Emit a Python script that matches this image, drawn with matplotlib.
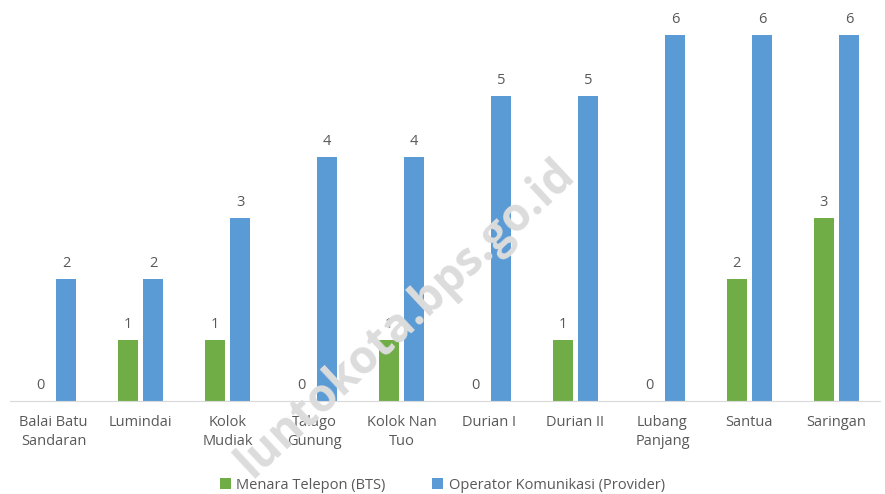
import numpy as np
import matplotlib
matplotlib.use("Agg")
from matplotlib import pyplot as plt

plt.rcParams['font.family'] = ['Open Sans', 'DejaVu Sans']

desa = ["Balai Batu\nSandaran", "Lumindai", "Kolok\nMudiak", "Talago\nGunung",
        "Kolok Nan\nTuo", "Durian I", "Durian II", "Lubang\nPanjang", "Santua", "Saringan"]
bts = [0, 1, 1, 0, 1, 0, 1, 0, 2, 3]
provider = [2, 2, 3, 4, 4, 5, 5, 6, 6, 6]

green = "#70ad47"
blue = "#5b9bd5"
txt = "#595959"

fig = plt.figure(figsize=(8.85, 4.94), dpi=100)

# watermark sits behind the bars
fig.text(406/885, 1-318/494, "luntokota.bps.go.id", rotation=43, ha='center', va='center',
         fontsize=33, fontweight='bold', color='#dcdcdc', zorder=0)

ax = fig.add_axes([10/885, 1-401/494, 870/885, 396/494])
ax.patch.set_alpha(0)

x = np.arange(len(desa))
w = 0.225
b1 = ax.bar(x - 0.145, bts, w, color=green, label="Menara Telepon (BTS)")
b2 = ax.bar(x + 0.145, provider, w, color=blue, label="Operator Komunikasi (Provider)")
ax.bar_label(b1, padding=6, color=txt, fontsize=10.5)
ax.bar_label(b2, padding=6, color=txt, fontsize=10.5)

ax.set_xlim(-0.5, len(desa) - 0.5)
ax.set_ylim(0, 6.5)
ax.set_xticks(x)
ax.set_xticklabels(desa, color=txt, fontsize=10.5, linespacing=1.35)
ax.tick_params(axis='x', length=0, pad=10)
ax.set_yticks([])
for s in ['top', 'right', 'left']:
    ax.spines[s].set_visible(False)
ax.spines['bottom'].set_color("#d9d9d9")

fig.legend(handles=[b1, b2], loc='center', bbox_to_anchor=(0.5, 1-485/494), ncol=2,
           frameon=False, fontsize=10.5, labelcolor=txt, handlelength=0.7,
           handleheight=0.7, handletextpad=0.4, columnspacing=3.2)

fig.savefig("out.png", dpi=100)
